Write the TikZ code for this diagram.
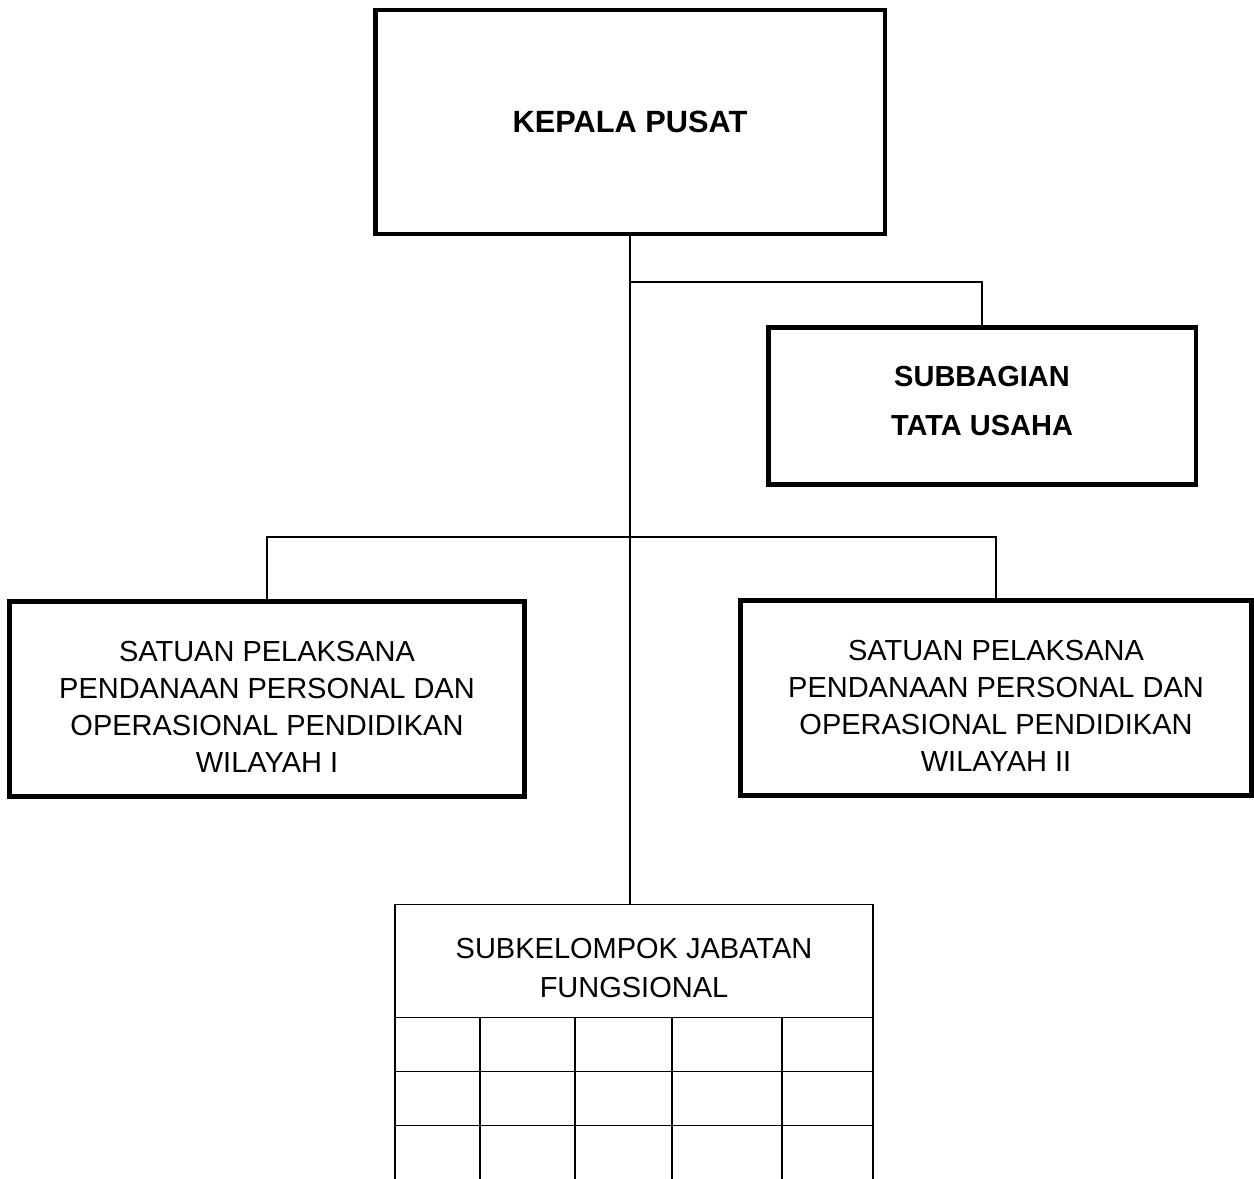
\documentclass[tikz,border=0pt]{standalone}
\usepackage{fontspec}
\setmainfont{Liberation Sans}
\usepackage{tikz}
\usetikzlibrary{matrix, positioning}
\tikzset{
unit/.style={
  draw, rectangle,
  line width=2.8pt,
  align=center,
  inner sep=0pt,
  font=\fontsize{16.5}{21}\selectfont
},
head/.style={unit, font=\bfseries\fontsize{17.5}{28}\selectfont},
grid/.style={
  matrix of nodes,
  line width=1pt,
  inner sep=0pt,
  row sep=-\pgflinewidth,
  column sep=-\pgflinewidth,
  nodes={draw, rectangle, inner sep=0pt, minimum height=1.08cm},
  nodes in empty cells
},
column 1/.style={nodes={minimum width=1.70cm}},
column 2/.style={nodes={minimum width=1.90cm}},
column 3/.style={nodes={minimum width=1.94cm}},
column 4/.style={nodes={minimum width=2.20cm}},
column 5/.style={nodes={minimum width=1.82cm}},
link/.style={line width=1pt},
}

\begin{document}
\begin{tikzpicture}[x=0.02cm, y=-0.02cm]
    \useasboundingbox (0,0) rectangle (1254,1179);

    \node (kepala) [head, minimum width=10.2cm, minimum height=4.48cm] at (630,122) {KEPALA PUSAT};
    \node (tu) [head, font=\bfseries\fontsize{16.5}{28}\selectfont, text depth=5.7pt, minimum width=8.56cm, minimum height=3.14cm] at (982,406) {SUBBAGIAN\\TATA USAHA};
    \node (wil1) [unit, text height=83.2pt, minimum width=10.3cm, minimum height=3.9cm] at (267,699) {SATUAN PELAKSANA\\PENDANAAN PERSONAL DAN\\OPERASIONAL PENDIDIKAN\\WILAYAH I};
    \node (wil2) [unit, text height=83.2pt, minimum width=10.22cm, minimum height=3.9cm] at (996,698) {SATUAN PELAKSANA\\PENDANAAN PERSONAL DAN\\OPERASIONAL PENDIDIKAN\\WILAYAH II};
    \node (fungsional) [unit, line width=1pt, text height=41.5pt, font=\fontsize{16.5}{22}\selectfont, minimum width=9.56cm, minimum height=2.26cm] at (634,961) {SUBKELOMPOK JABATAN\\FUNGSIONAL};

    \matrix (cells) [grid, below=-1.5pt of fungsional] {
        & & & & \\
        & & & & \\
        & & & & \\
    };

    % garis hubung
    \coordinate (tuJoint) at (kepala.south |- 0,282);
    \coordinate (wilJoint) at (kepala.south |- 0,537);
    \draw[link] (kepala.south) -- (kepala.south |- fungsional.north);
    \draw[link] (tuJoint) -| (tu.north);
    \draw[link] (wil1.north) |- (wilJoint) -| (wil2.north);
\end{tikzpicture}
\end{document}
